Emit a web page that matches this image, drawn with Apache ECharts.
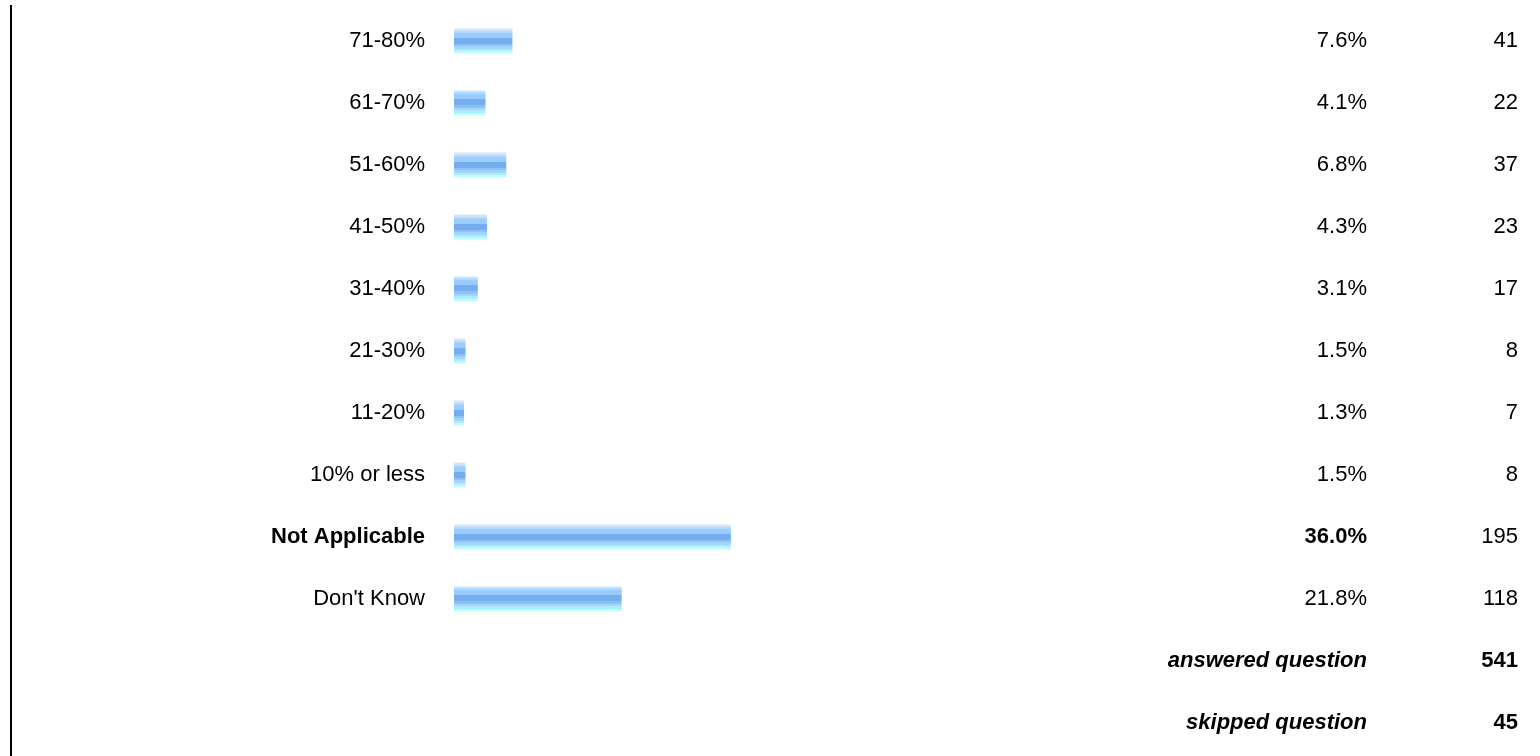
<!DOCTYPE html>
<html>
<head>
<meta charset="utf-8">
<script src="https://cdn.jsdelivr.net/npm/echarts@6/dist/echarts.min.js"></script>
<style>
html, body { margin: 0; padding: 0; background: #fff; }
#chart { width: 1540px; height: 756px; }
</style>
</head>
<body>
<div id="chart"></div>
<script>
// answer options, top to bottom
var categories = ['71-80%', '61-70%', '51-60%', '41-50%', '31-40%', '21-30%', '11-20%', '10% or less', 'Not Applicable', "Don't Know"]
var percents = [7.6, 4.1, 6.8, 4.3, 3.1, 1.5, 1.3, 1.5, 36.0, 21.8]
var counts = [41, 22, 37, 23, 17, 8, 7, 8, 195, 118]
var summaryLabels = ['answered question', 'skipped question']
var summaryCounts = [541, 45]
var boldCategory = 'Not Applicable'

var rowNames = categories.concat(summaryLabels)
var barData = percents.slice()
summaryLabels.forEach(function () { barData.push('-') })

var font = '"Liberation Sans", Arial, sans-serif'
var fs = 22

var barColor = {
  type: 'linear', x: 0, y: 0, x2: 0, y2: 1,
  colorStops: [
    { offset: 0, color: '#d2e6fb' }, { offset: 0.08, color: '#d2e6fb' },
    { offset: 0.08, color: '#b5d9fb' }, { offset: 0.16, color: '#b5d9fb' },
    { offset: 0.16, color: '#99ccff' }, { offset: 0.36, color: '#99ccff' },
    { offset: 0.36, color: '#74aeef' }, { offset: 0.6, color: '#74aeef' },
    { offset: 0.6, color: '#8cc3f7' }, { offset: 0.7, color: '#8cc3f7' },
    { offset: 0.7, color: '#a3d4fc' }, { offset: 0.8, color: '#a3d4fc' },
    { offset: 0.8, color: '#b0ebff' }, { offset: 0.89, color: '#b0ebff' },
    { offset: 0.89, color: '#b8ffff' }, { offset: 1, color: '#b8ffff' }
  ]
}

var chart = echarts.init(document.getElementById('chart'))
chart.setOption({
  animation: false,
  backgroundColor: '#fff',
  textStyle: { fontFamily: font },
  grid: { left: 454, top: 10, width: 646, height: 744, containLabel: false },
  xAxis: { type: 'value', min: 0, max: 84, show: false },
  yAxis: [
    {
      type: 'category',
      inverse: true,
      data: rowNames,
      axisLine: { show: false },
      axisTick: { show: false },
      axisLabel: {
        margin: 29,
        fontSize: fs,
        color: '#000',
        fontFamily: font,
        formatter: function (v, i) {
          if (i >= categories.length) return ''
          return v === boldCategory ? '{b|' + v + '}' : v
        },
        rich: { b: { fontWeight: 'bold', fontSize: fs, color: '#000', fontFamily: font } }
      }
    },
    {
      type: 'category',
      inverse: true,
      position: 'right',
      data: rowNames,
      axisLine: { show: false },
      axisTick: { show: false },
      axisLabel: {
        margin: 267,
        align: 'right',
        fontSize: fs,
        color: '#000',
        fontFamily: font,
        formatter: function (v, i) {
          if (i >= categories.length) return '{s|' + v + '}'
          var t = percents[i].toFixed(1) + '%'
          return categories[i] === boldCategory ? '{b|' + t + '}' : t
        },
        rich: {
          b: { fontWeight: 'bold', fontSize: fs, color: '#000', fontFamily: font },
          s: { fontWeight: 'bold', fontStyle: 'italic', fontSize: fs, color: '#000', fontFamily: font }
        }
      }
    },
    {
      type: 'category',
      inverse: true,
      position: 'right',
      data: rowNames,
      axisLine: { show: false },
      axisTick: { show: false },
      axisLabel: {
        margin: 418,
        align: 'right',
        fontSize: fs,
        color: '#000',
        fontFamily: font,
        formatter: function (v, i) {
          if (i >= categories.length) return '{s|' + summaryCounts[i - categories.length] + '}'
          return String(counts[i])
        },
        rich: { s: { fontWeight: 'bold', fontSize: fs, color: '#000', fontFamily: font } }
      }
    }
  ],
  series: [{
    type: 'bar',
    yAxisIndex: 0,
    data: barData,
    barWidth: 25,
    itemStyle: { color: barColor },
    silent: true
  }],
  graphic: [{
    type: 'line',
    shape: { x1: 11, y1: 5, x2: 11, y2: 756 },
    style: { stroke: '#000', lineWidth: 2 }
  }]
})
</script>
</body>
</html>
